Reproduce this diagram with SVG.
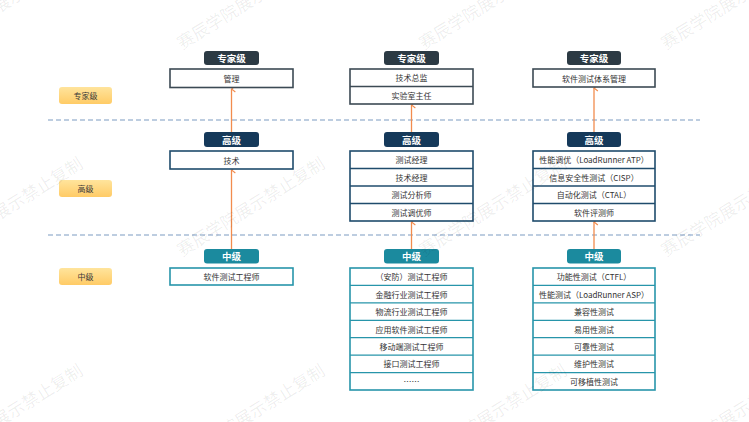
<svg xmlns="http://www.w3.org/2000/svg" width="749" height="422" viewBox="0 0 749 422">
<defs>
<linearGradient id="lg" x1="0" y1="0" x2="0" y2="1">
<stop offset="0" stop-color="#ffe49c"/>
<stop offset="1" stop-color="#ffcb66"/>
</linearGradient>
<marker id="ah" viewBox="0 0 10 10" refX="5" refY="1" markerWidth="7" markerHeight="7" markerUnits="userSpaceOnUse" orient="auto">
<path d="M0.8,6.5 L5,1 L9.2,6.5" fill="none" stroke="#f28c4e" stroke-width="1.6"/>
</marker>
<style>
text{font-family:"Noto Sans CJK SC","Noto Sans",sans-serif;text-anchor:middle;dominant-baseline:central}
.lvl{fill:url(#lg)}
.lvlt{font-size:8px;fill:#3a3a3a}
.hdt{font-size:9.5px;font-weight:bold;fill:#ffffff}
.box{fill:#ffffff;stroke-width:1.6}
.sep{stroke-width:1.3}
.bt{font-size:8px;fill:#333333}
.ex{stroke:#3c4a54}
.sr{stroke:#1f4b6c}
.md{stroke:#2795aa}
.hex{fill:#2c3a44}
.hsr{fill:#15395a}
.hmd{fill:#1b8a9e}
.dash{stroke:#a8bdd6;stroke-width:1.5;stroke-dasharray:5 3;fill:none}
.arr{stroke:#f28c4e;stroke-width:1.3;fill:none}
.wm{font-size:17px;fill:#000000;fill-opacity:0.07;text-anchor:start;dominant-baseline:auto}
</style>
</defs>
<rect width="749" height="422" fill="#ffffff"/>

<g id="dividers">
<line class="dash" x1="48" y1="120" x2="700" y2="120"/>
<line class="dash" x1="48" y1="235" x2="700" y2="235"/>
</g>

<g id="level-labels">
<g id="lbl-expert"><rect class="lvl" x="59" y="87" width="53" height="17" rx="3"/><text class="lvlt" x="85.5" y="95.5">专家级</text></g>
<g id="lbl-senior"><rect class="lvl" x="59" y="180" width="53" height="17" rx="3"/><text class="lvlt" x="85.5" y="188.5">高级</text></g>
<g id="lbl-mid"><rect class="lvl" x="59" y="268" width="53" height="17" rx="3"/><text class="lvlt" x="85.5" y="276.5">中级</text></g>
</g>

<g id="connectors">
<line class="arr" x1="231.5" y1="132" x2="231.5" y2="89" marker-end="url(#ah)"/>
<line class="arr" x1="231.5" y1="249" x2="231.5" y2="170" marker-end="url(#ah)"/>
<line class="arr" x1="411.5" y1="132" x2="411.5" y2="105" marker-end="url(#ah)"/>
<line class="arr" x1="411.5" y1="249" x2="411.5" y2="222" marker-end="url(#ah)"/>
<line class="arr" x1="594" y1="132" x2="594" y2="88" marker-end="url(#ah)"/>
<line class="arr" x1="594" y1="249" x2="594" y2="222" marker-end="url(#ah)"/>
</g>

<!-- Column 1 -->
<g id="c1-expert">
<rect class="hex" x="204" y="51" width="55" height="14" rx="3"/><text class="hdt" x="231.5" y="58">专家级</text>
<rect class="box ex" x="170" y="69" width="123" height="18.5"/>
<text class="bt" x="231.5" y="78.3">管理</text>
</g>
<g id="c1-senior">
<rect class="hsr" x="204" y="132" width="55" height="15" rx="3"/><text class="hdt" x="231.5" y="139.5">高级</text>
<rect class="box sr" x="170" y="151" width="123" height="18"/>
<text class="bt" x="231.5" y="160">技术</text>
</g>
<g id="c1-mid">
<rect class="hmd" x="204" y="249" width="55" height="14.5" rx="3"/><text class="hdt" x="231.5" y="256.3">中级</text>
<rect class="box md" x="170" y="268" width="123" height="17"/>
<text class="bt" x="231.5" y="276.5">软件测试工程师</text>
</g>

<!-- Column 2 -->
<g id="c2-expert">
<rect class="hex" x="384" y="51" width="55" height="14" rx="3"/><text class="hdt" x="411.5" y="58">专家级</text>
<rect class="box ex" x="350" y="69" width="123" height="35"/>
<line class="sep ex" x1="350" y1="86.5" x2="473" y2="86.5"/>
<text class="bt" x="411.5" y="77.8">技术总监</text>
<text class="bt" x="411.5" y="95.3">实验室主任</text>
</g>
<g id="c2-senior">
<rect class="hsr" x="384" y="132" width="55" height="15" rx="3"/><text class="hdt" x="411.5" y="139.5">高级</text>
<rect class="box sr" x="350" y="151" width="123" height="70"/>
<line class="sep sr" x1="350" y1="168.5" x2="473" y2="168.5"/>
<line class="sep sr" x1="350" y1="186" x2="473" y2="186"/>
<line class="sep sr" x1="350" y1="203.5" x2="473" y2="203.5"/>
<text class="bt" x="411.5" y="159.8">测试经理</text>
<text class="bt" x="411.5" y="177.3">技术经理</text>
<text class="bt" x="411.5" y="194.8">测试分析师</text>
<text class="bt" x="411.5" y="212.3">测试调优师</text>
</g>
<g id="c2-mid">
<rect class="hmd" x="384" y="249" width="55" height="14.5" rx="3"/><text class="hdt" x="411.5" y="256.3">中级</text>
<rect class="box md" x="350" y="268" width="123" height="122"/>
<line class="sep md" x1="350" y1="285.4" x2="473" y2="285.4"/>
<line class="sep md" x1="350" y1="302.9" x2="473" y2="302.9"/>
<line class="sep md" x1="350" y1="320.3" x2="473" y2="320.3"/>
<line class="sep md" x1="350" y1="337.7" x2="473" y2="337.7"/>
<line class="sep md" x1="350" y1="355.1" x2="473" y2="355.1"/>
<line class="sep md" x1="350" y1="372.6" x2="473" y2="372.6"/>
<text class="bt" x="411.5" y="276.7">（安防）测试工程师</text>
<text class="bt" x="411.5" y="294.1">金融行业测试工程师</text>
<text class="bt" x="411.5" y="311.6">物流行业测试工程师</text>
<text class="bt" x="411.5" y="329">应用软件测试工程师</text>
<text class="bt" x="411.5" y="346.4">移动端测试工程师</text>
<text class="bt" x="411.5" y="363.8">接口测试工程师</text>
<text class="bt" x="411.5" y="381.3">……</text>
</g>

<!-- Column 3 -->
<g id="c3-expert">
<rect class="hex" x="567" y="51" width="54" height="14" rx="3"/><text class="hdt" x="594" y="58">专家级</text>
<rect class="box ex" x="533" y="69" width="122" height="18"/>
<text class="bt" x="594" y="78">软件测试体系管理</text>
</g>
<g id="c3-senior">
<rect class="hsr" x="567" y="132" width="54" height="15" rx="3"/><text class="hdt" x="594" y="139.5">高级</text>
<rect class="box sr" x="533" y="151" width="122" height="70"/>
<line class="sep sr" x1="533" y1="168.5" x2="655" y2="168.5"/>
<line class="sep sr" x1="533" y1="186" x2="655" y2="186"/>
<line class="sep sr" x1="533" y1="203.5" x2="655" y2="203.5"/>
<text class="bt" x="594" y="159.8">性能调优（LoadRunner ATP）</text>
<text class="bt" x="594" y="177.3">信息安全性测试（CISP）</text>
<text class="bt" x="594" y="194.8">自动化测试（CTAL）</text>
<text class="bt" x="594" y="212.3">软件评测师</text>
</g>
<g id="c3-mid">
<rect class="hmd" x="567" y="249" width="54" height="14.5" rx="3"/><text class="hdt" x="594" y="256.3">中级</text>
<rect class="box md" x="533" y="268" width="122" height="122"/>
<line class="sep md" x1="533" y1="285.4" x2="655" y2="285.4"/>
<line class="sep md" x1="533" y1="302.9" x2="655" y2="302.9"/>
<line class="sep md" x1="533" y1="320.3" x2="655" y2="320.3"/>
<line class="sep md" x1="533" y1="337.7" x2="655" y2="337.7"/>
<line class="sep md" x1="533" y1="355.1" x2="655" y2="355.1"/>
<line class="sep md" x1="533" y1="372.6" x2="655" y2="372.6"/>
<text class="bt" x="594" y="276.7">功能性测试（CTFL）</text>
<text class="bt" x="594" y="294.1">性能测试（LoadRunner ASP）</text>
<text class="bt" x="594" y="311.6">兼容性测试</text>
<text class="bt" x="594" y="329">易用性测试</text>
<text class="bt" x="594" y="346.4">可靠性测试</text>
<text class="bt" x="594" y="363.8">维护性测试</text>
<text class="bt" x="594" y="381.3">可移植性测试</text>
</g>

<g id="watermark">
<text class="wm" transform="translate(-60,50) rotate(-32)">赛辰学院展示禁止复制</text>
<text class="wm" transform="translate(182,50) rotate(-32)">赛辰学院展示禁止复制</text>
<text class="wm" transform="translate(424,50) rotate(-32)">赛辰学院展示禁止复制</text>
<text class="wm" transform="translate(666,50) rotate(-32)">赛辰学院展示禁止复制</text>
<text class="wm" transform="translate(-60,257) rotate(-32)">赛辰学院展示禁止复制</text>
<text class="wm" transform="translate(182,257) rotate(-32)">赛辰学院展示禁止复制</text>
<text class="wm" transform="translate(424,257) rotate(-32)">赛辰学院展示禁止复制</text>
<text class="wm" transform="translate(666,257) rotate(-32)">赛辰学院展示禁止复制</text>
<text class="wm" transform="translate(-60,464) rotate(-32)">赛辰学院展示禁止复制</text>
<text class="wm" transform="translate(182,464) rotate(-32)">赛辰学院展示禁止复制</text>
<text class="wm" transform="translate(424,464) rotate(-32)">赛辰学院展示禁止复制</text>
<text class="wm" transform="translate(666,464) rotate(-32)">赛辰学院展示禁止复制</text>
</g>
</svg>
